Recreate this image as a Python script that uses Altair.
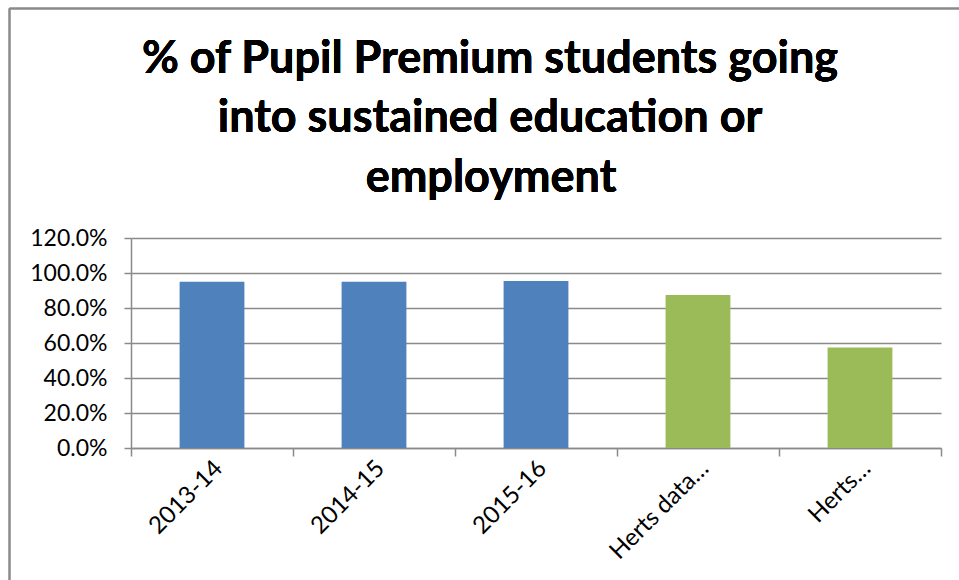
import altair as alt
import pandas as pd

categories = ["2013-14", "2014-15", "2015-16", "Herts data…", "Herts…"]
values = [0.950, 0.950, 0.954, 0.874, 0.575]
groups = ["School", "School", "School", "Herts", "Herts"]
y_ticks = [0.0, 0.2, 0.4, 0.6, 0.8, 1.0, 1.2]
title_lines = ["% of Pupil Premium students going", "into sustained education or", "employment"]

df = pd.DataFrame({"category": categories, "value": values, "group": groups})

W, H = 810, 210
PL, PT = 131, 238
FONT = "Lato"
GRID = "#8a8a8a"

bars = alt.Chart(df).mark_bar(width=alt.RelativeBandSize(0.4)).encode(
    x=alt.X("category:N", sort=categories, title=None,
            scale=alt.Scale(paddingInner=0, paddingOuter=0),
            axis=alt.Axis(labelAngle=-45, labelFont=FONT, labelFontSize=24, labelColor="#000000",
                          labelPadding=0, labelOffset=-2, tickBand="extent", tickSize=8,
                          tickColor=GRID, tickWidth=1.5, domainColor=GRID, domainWidth=1.5,
                          grid=False)),
    y=alt.Y("value:Q", title=None,
            scale=alt.Scale(domain=[0, 1.2], nice=False),
            axis=alt.Axis(values=y_ticks, format=".1%", labelFont=FONT, labelFontSize=23,
                          labelColor="#000000", labelPadding=17, tickSize=7, tickColor=GRID,
                          tickWidth=1.5, domainColor=GRID, domainWidth=1.5,
                          grid=True, gridColor=GRID, gridWidth=1.5)),
    color=alt.Color("group:N", scale=alt.Scale(domain=["School", "Herts"],
                                               range=["#4F81BD", "#9BBB59"]), legend=None),
)

layers = [bars]
title_x = [359, 359, 360]
title_y = [-165, -106, -46]
for line, tx, ty in zip(title_lines, title_x, title_y):
    layers.append(
        alt.Chart(df).mark_text(text=line, font=FONT, fontSize=45, fontWeight="bold",
                                align="center", baseline="alphabetic", color="#000000")
        .encode(x=alt.value(tx), y=alt.value(ty))
    )

# outer chart border (top and left edges visible)
layers.append(alt.Chart(df).mark_rule(color=GRID, strokeWidth=1.5).encode(
    x=alt.value(9.5 - PL), x2=alt.value(959 - PL + 10), y=alt.value(8.5 - PT)))
layers.append(alt.Chart(df).mark_rule(color=GRID, strokeWidth=1.5).encode(
    x=alt.value(9.5 - PL), y=alt.value(8.5 - PT), y2=alt.value(580 - PT + 10)))

chart = alt.layer(*layers).properties(
    width=W, height=H,
    autosize=alt.AutoSizeParams(type="none"),
    padding={"left": PL, "top": PT, "right": 959 - PL - W, "bottom": 580 - PT - H},
    background="white",
).configure_view(stroke=None)

chart.save("out.html", embed_options={"renderer": "svg", "actions": False})
